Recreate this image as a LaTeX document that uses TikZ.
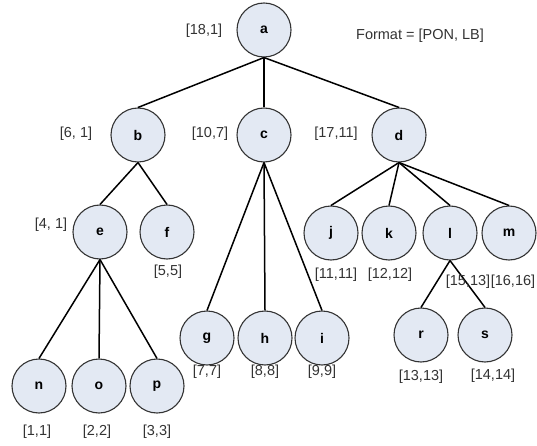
\documentclass[tikz,border=0pt]{standalone}
\usepackage{fontspec}
\setmainfont{Liberation Sans}
\begin{document}
\begin{tikzpicture}[x=1pt,y=-1pt,
  vtx/.style={circle,draw=black!80,line width=1.1pt,fill=nodefill,minimum size=54pt,inner sep=0pt,font=\fontsize{14}{16}\selectfont\bfseries},
  lbl/.style={inner sep=0pt,font=\fontsize{14.5}{16}\selectfont,text=black!80},
  edge/.style={draw=black,line width=1.5pt}]
\definecolor{nodefill}{HTML}{E3E9F3}
\useasboundingbox (0,0) rectangle (537,446);
% vertices
\node[vtx] (a) at (264,30) {a};
\node[vtx] (b) at (138,135) {b};
\node[vtx] (c) at (264,135) {c};
\node[vtx] (d) at (399,135) {d};
\node[vtx] (e) at (100,232) {e};
\node[vtx] (f) at (167,232) {f};
\node[vtx] (g) at (207,338) {g};
\node[vtx] (h) at (265,338) {h};
\node[vtx] (i) at (322,338) {i};
\node[vtx] (j) at (331,233) {j};
\node[vtx] (k) at (389,233) {k};
\node[vtx] (l) at (450,233) {l};
\node[vtx] (m) at (509,233) {m};
\node[vtx] (n) at (39,386) {n};
\node[vtx] (o) at (99,386) {o};
\node[vtx] (p) at (157,386) {p};
\node[vtx] (r) at (421,335) {r};
\node[vtx] (s) at (485,335) {s};
% tree edges
\foreach \u/\v in {a/b,a/c,a/d,b/e,b/f,c/g,c/h,c/i,d/j,d/k,d/l,d/m,e/n,e/o,e/p,l/r,l/s}
  \draw[edge] (\u.south) -- (\v.north);
% [PON, LB] labels
\node[lbl] (la) at (204,31) {[18,1]};
\node[lbl] (lb) at (76,134) {[6, 1]};
\node[lbl] (lc) at (210,134) {[10,7]};
\node[lbl] (ld) at (336,134) {[17,11]};
\node[lbl] (le) at (51,225) {[4, 1]};
\node[lbl] (lf) at (168,272) {[5,5]};
\node[lbl] (lg) at (207,372) {[7,7]};
\node[lbl] (lh) at (265,372) {[8,8]};
\node[lbl] (li) at (322,372) {[9,9]};
\node[lbl] (lj) at (336,275) {[11,11]};
\node[lbl] (lk) at (390,275) {[12,12]};
\node[lbl] (ll) at (468,282) {[15,13]};
\node[lbl] (lm) at (513,282) {[16,16]};
\node[lbl] (ln) at (37,432) {[1,1]};
\node[lbl] (lo) at (97,432) {[2,2]};
\node[lbl] (lp) at (157,432) {[3,3]};
\node[lbl] (lr) at (421,377) {[13,13]};
\node[lbl] (ls) at (493,376) {[14,14]};
\node[lbl] (fmt) at (420,36) {Format = [PON, LB]};
\end{tikzpicture}
\end{document}
